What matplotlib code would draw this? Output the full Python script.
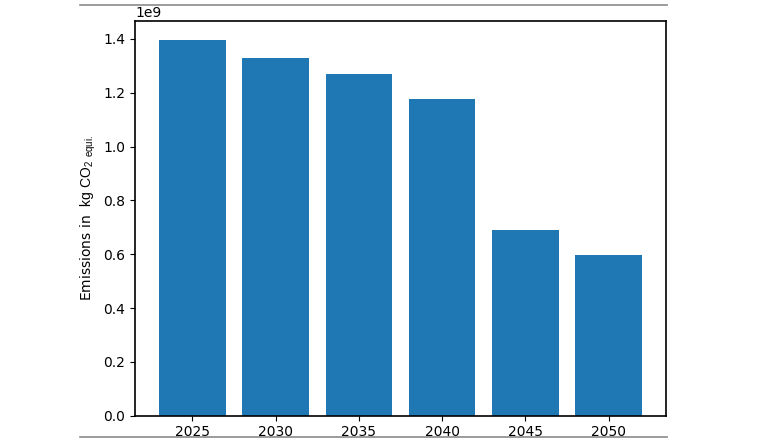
import matplotlib
matplotlib.use("Agg")
import matplotlib.pyplot as plt
from matplotlib.lines import Line2D

# data
years = [2025, 2030, 2035, 2040, 2045, 2050]
emissions = [1.398e9, 1.331e9, 1.269e9, 1.178e9, 0.691e9, 0.599e9]

plt.rcParams['mathtext.fontset'] = 'custom'
plt.rcParams['mathtext.rm'] = 'Liberation Sans'
plt.rcParams['mathtext.it'] = 'Liberation Sans'

fig = plt.figure(figsize=(7.6, 4.4), dpi=100)
ax = fig.add_axes([135 / 760, 1 - 415.7 / 440, (666 - 135) / 760, (415.7 - 20.7) / 440])

ax.bar(years, emissions, width=4, color='#1f77b4')
ax.set_xticks(years)
ax.set_ylabel(r'Emissions in  $\mathrm{kg\ CO_2\ _{equi.}}$')

for sp in ax.spines.values():
    sp.set_linewidth(1.2)

# page rules above and below the chart
for yy in (1 - 5 / 440, 1 - 437.3 / 440):
    fig.add_artist(Line2D([80 / 760, 667 / 760], [yy, yy], color='#8a8a8a', lw=1.2))

fig.savefig('out.png', dpi=100)
